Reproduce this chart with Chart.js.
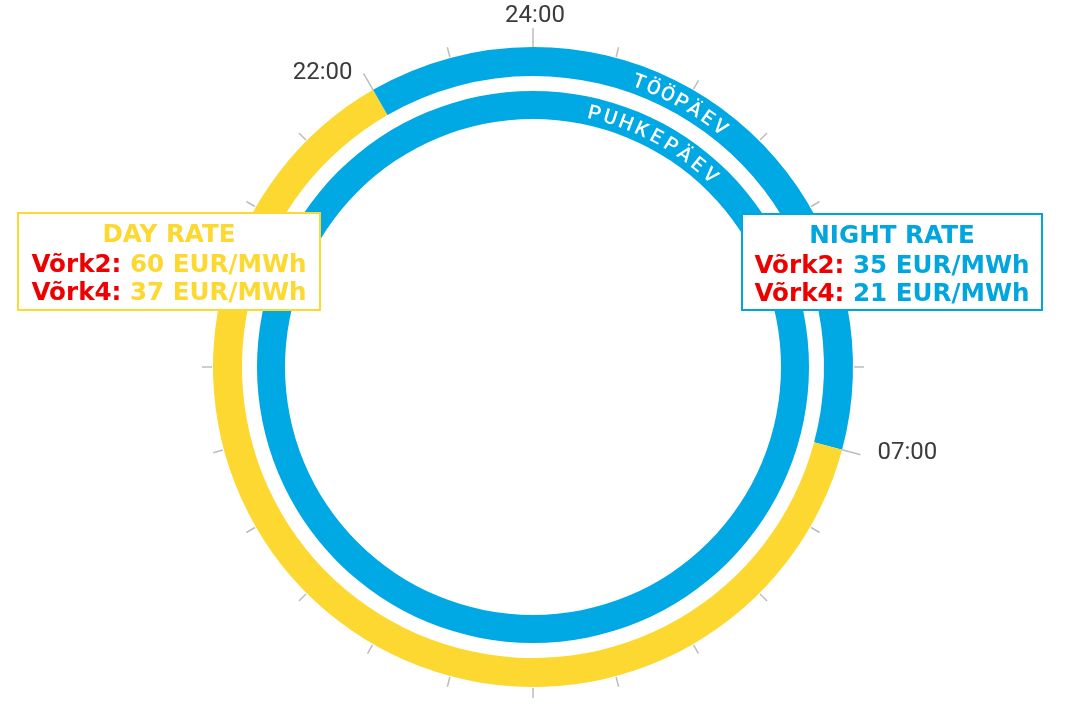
<!DOCTYPE html>
<html><head><meta charset="utf-8">
<script src="https://cdn.jsdelivr.net/npm/chart.js@4"></script>
<style>html,body{margin:0;padding:0;background:#fff;overflow:hidden}canvas{display:block}</style>
</head><body>
<canvas id="c" width="1072" height="711"></canvas>
<script>
// ---- data ----
const workdaySegments = ['Night', 'Day', 'Night'];
const workdayHours = [7, 15, 2];          // 00–07 night, 07–22 day, 22–24 night
const weekendSegments = ['Night'];
const weekendHours = [24];
const tickHours = [0,1,2,3,4,5,6,7,8,9,10,11,12,13,14,15,16,17,18,19,20,21,22,23];
const hourLabels = ['24:00', '22:00', '07:00'];
const hourLabelAt = [0, 22, 7];
const ringNames = ['TÖÖPÄEV', 'PUHKEPÄEV'];
const networks = ['Võrk2', 'Võrk4'];
const dayRates = [60, 37];
const nightRates = [35, 21];
const rateUnit = 'EUR/MWh';
const rateTitles = ['DAY RATE', 'NIGHT RATE'];

const BLUE = '#00A8E4', YELLOW = '#FCD830', RED = '#EE0000';
const colorFor = s => s === 'Day' ? YELLOW : BLUE;

const overlay = {
  id: 'overlay',
  afterDatasetsDraw(chart) {
    const ctx = chart.ctx;
    const outer = chart.getDatasetMeta(0).data[0];
    const inner = chart.getDatasetMeta(2).data[0];
    const cx = outer.x, cy = outer.y;
    const R = outer.outerRadius;
    const deg = Math.PI / 180;
    ctx.save();
    // hour ticks
    ctx.strokeStyle = '#bdbdbd';
    ctx.lineWidth = 1.5;
    tickHours.forEach(h => {
      const a = h * 15 * deg;
      const major = hourLabelAt.includes(h);
      const r1 = major ? R : R + 1, r2 = major ? R + 19 : R + 11;
      ctx.beginPath();
      ctx.moveTo(cx + r1 * Math.sin(a), cy - r1 * Math.cos(a));
      ctx.lineTo(cx + r2 * Math.sin(a), cy - r2 * Math.cos(a));
      ctx.stroke();
    });
    // hour labels
    ctx.fillStyle = '#3b3b3b';
    ctx.font = '24px Roboto';
    hourLabels.forEach((t, i) => {
      const a = hourLabelAt[i] * 15 * deg;
      const ex = cx + (R + 19) * Math.sin(a), ey = cy - (R + 19) * Math.cos(a);
      const s = Math.sin(a);
      if (Math.abs(s) < 0.1) {
        ctx.textAlign = 'center'; ctx.textBaseline = 'alphabetic';
        ctx.fillText(t, ex + 2, ey - 6);
      } else if (s < 0) {
        ctx.textAlign = 'right'; ctx.textBaseline = 'middle';
        ctx.fillText(t, ex - 11, ey);
      } else {
        ctx.textAlign = 'left'; ctx.textBaseline = 'middle';
        ctx.fillText(t, ex + 17, ey - 2);
      }
    });
    // curved ring names
    ctx.fillStyle = '#ffffff';
    ctx.font = '500 20px Roboto';
    ctx.textAlign = 'center';
    ctx.textBaseline = 'alphabetic';
    const curved = [
      {text: ringNames[0], r: outer.innerRadius + 7, center: 29.2, step: 2.93},
      {text: ringNames[1], r: inner.innerRadius + 7, center: 28.2, step: 3.65}
    ];
    curved.forEach(c => {
      const chars = [...c.text];
      const start = c.center - c.step * (chars.length - 1) / 2;
      chars.forEach((ch, k) => {
        const a = (start + k * c.step) * deg;
        ctx.save();
        ctx.translate(cx + c.r * Math.sin(a), cy - c.r * Math.cos(a));
        ctx.rotate(a);
        ctx.fillText(ch, 0, 0);
        ctx.restore();
      });
    });
    // rate boxes
    const boxes = [
      {x: 18, y: 213, w: 302, h: 97, color: YELLOW, rates: dayRates, title: rateTitles[0]},
      {x: 742, y: 214, w: 300, h: 96, color: '#00A6DD', rates: nightRates, title: rateTitles[1]}
    ];
    boxes.forEach(b => {
      ctx.fillStyle = '#fff';
      ctx.fillRect(b.x, b.y, b.w, b.h);
      ctx.strokeStyle = b.color;
      ctx.lineWidth = 2;
      ctx.strokeRect(b.x, b.y, b.w, b.h);
      const mx = b.x + b.w / 2;
      ctx.font = 'bold 24.6px "DejaVu Sans"';
      ctx.textBaseline = 'alphabetic';
      ctx.textAlign = 'center';
      ctx.fillStyle = b.color;
      ctx.fillText(b.title, mx, b.y + 29);
      ctx.textAlign = 'left';
      b.rates.forEach((v, i) => {
        const p1 = networks[i] + ': ';
        const p2 = v + ' ' + rateUnit;
        const w1 = ctx.measureText(p1).width, w2 = ctx.measureText(p2).width;
        const x0 = mx - (w1 + w2) / 2;
        const y = b.y + 59 + i * 28;
        ctx.fillStyle = RED;
        ctx.fillText(p1, x0, y);
        ctx.fillStyle = b.color;
        ctx.fillText(p2, x0 + w1, y);
      });
    });
    ctx.restore();
  }
};

new Chart(document.getElementById('c'), {
  type: 'doughnut',
  data: {
    labels: workdaySegments,
    datasets: [
      {label: 'Workday', data: workdayHours, backgroundColor: workdaySegments.map(colorFor), borderWidth: 0, weight: 29},
      {label: 'gap', data: [24], backgroundColor: 'rgba(0,0,0,0)', borderWidth: 0, weight: 15},
      {label: 'Weekend', data: weekendHours, backgroundColor: weekendSegments.map(colorFor), borderWidth: 0, weight: 28}
    ]
  },
  options: {
    responsive: false,
    animation: false,
    events: [],
    cutout: 248,
    rotation: 0,
    layout: {padding: {top: 47, bottom: 24, left: 0, right: 6}},
    plugins: {legend: {display: false}, tooltip: {enabled: false}}
  },
  plugins: [overlay]
});
</script>
</body></html>
